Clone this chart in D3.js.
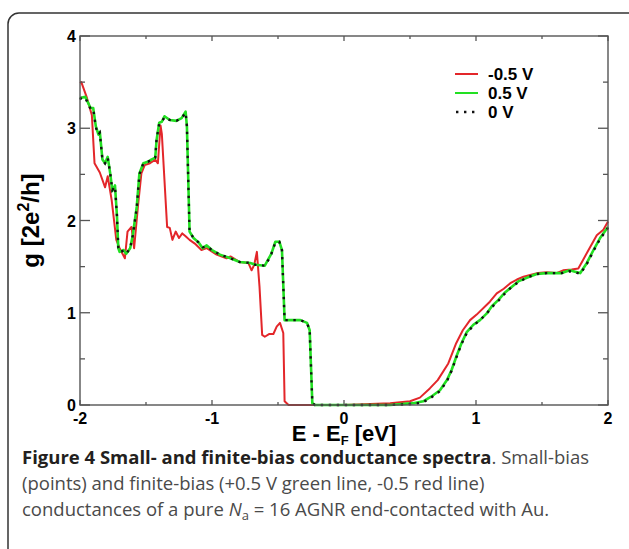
<!DOCTYPE html>
<html>
<head>
<meta charset="utf-8">
<script src="https://cdn.jsdelivr.net/npm/d3@7"></script>
<style>
  body { margin: 0; background: #fff; }
  svg { display: block; }
</style>
</head>
<body>
<svg id="chart"></svg>
<script>
// -0.5 V (red)
var redE = [-2.00,-1.99,-1.95,-1.91,-1.89,-1.85,-1.81,-1.79,-1.76,-1.725,-1.70,-1.66,-1.64,-1.61,-1.59,-1.56,-1.535,-1.51,-1.47,-1.43,-1.41,-1.39,-1.38,-1.34,-1.32,-1.30,-1.275,-1.25,-1.225,-1.20,-1.17,-1.13,-1.08,-1.04,-0.965,-0.89,-0.86,-0.79,-0.725,-0.70,-0.68,-0.66,-0.64,-0.62,-0.60,-0.565,-0.535,-0.51,-0.485,-0.46,-0.45,-0.42,-0.2,0,0.2,0.35,0.50,0.575,0.65,0.71,0.79,0.85,0.90,0.955,1.005,1.07,1.105,1.157,1.21,1.26,1.31,1.36,1.41,1.47,1.535,1.61,1.66,1.725,1.775,1.81,1.86,1.915,1.965,2.0];
var redG = [3.49,3.50,3.34,3.14,2.62,2.52,2.36,2.48,2.22,1.79,1.70,1.59,1.88,1.93,1.70,2.17,2.51,2.60,2.62,2.66,2.62,3.03,2.94,1.93,1.92,1.79,1.88,1.81,1.86,1.83,1.79,1.75,1.68,1.70,1.63,1.59,1.61,1.55,1.54,1.46,1.52,1.66,1.28,0.76,0.74,0.77,0.77,0.85,0.89,0.78,0.04,0.0,0.0,0.0,0.01,0.02,0.04,0.08,0.18,0.27,0.45,0.67,0.81,0.92,0.98,1.07,1.12,1.21,1.26,1.32,1.36,1.39,1.41,1.43,1.44,1.43,1.46,1.47,1.48,1.57,1.70,1.84,1.90,1.99];

// +0.5 V (green) and 0 V (dots) share one energy grid
var gridE = [-2.00,-1.99,-1.96,-1.92,-1.90,-1.88,-1.86,-1.85,-1.83,-1.81,-1.79,-1.77,-1.755,-1.735,-1.72,-1.71,-1.70,-1.67,-1.65,-1.62,-1.60,-1.57,-1.55,-1.52,-1.48,-1.46,-1.43,-1.42,-1.40,-1.38,-1.36,-1.32,-1.27,-1.23,-1.20,-1.19,-1.17,-1.14,-1.10,-1.07,-1.04,-1.00,-0.94,-0.86,-0.79,-0.71,-0.67,-0.60,-0.57,-0.55,-0.52,-0.49,-0.47,-0.45,-0.41,-0.33,-0.28,-0.26,-0.24,-0.22,0,0.35,0.525,0.60,0.66,0.727,0.78,0.815,0.85,0.89,0.93,0.98,1.03,1.08,1.12,1.17,1.22,1.27,1.32,1.385,1.46,1.535,1.65,1.71,1.75,1.79,1.84,1.89,1.94,2.0];
var greenG = [3.32,3.33,3.34,3.22,3.22,3.02,2.93,2.96,2.66,2.62,2.69,2.50,2.32,2.38,2.05,1.70,1.66,1.68,1.64,1.70,1.84,2.15,2.51,2.62,2.64,2.66,2.68,2.87,3.06,3.07,3.13,3.09,3.08,3.11,3.18,3.02,1.88,1.81,1.76,1.70,1.73,1.68,1.63,1.59,1.55,1.54,1.52,1.51,1.59,1.64,1.77,1.77,1.68,0.92,0.92,0.92,0.89,0.81,0.02,0.0,0.0,0.0,0.02,0.04,0.09,0.16,0.27,0.38,0.52,0.67,0.79,0.87,0.92,0.99,1.07,1.14,1.22,1.28,1.34,1.38,1.42,1.43,1.43,1.46,1.445,1.43,1.54,1.68,1.81,1.93];
var zeroG = [3.31,3.33,3.33,3.21,3.21,3.01,2.93,2.95,2.66,2.62,2.68,2.50,2.33,2.37,2.05,1.71,1.66,1.67,1.64,1.70,1.84,2.14,2.50,2.62,2.64,2.66,2.68,2.88,3.05,3.07,3.12,3.09,3.08,3.11,3.17,3.02,1.88,1.81,1.76,1.71,1.72,1.68,1.63,1.59,1.55,1.54,1.52,1.51,1.58,1.64,1.76,1.77,1.68,0.92,0.92,0.92,0.89,0.81,0.02,0.0,0.0,0.0,0.01,0.03,0.08,0.15,0.26,0.37,0.51,0.66,0.78,0.86,0.92,0.99,1.06,1.13,1.21,1.28,1.33,1.38,1.42,1.43,1.43,1.45,1.44,1.42,1.53,1.67,1.80,1.92];

var xTicks = [-2, -1, 0, 1, 2];
var yTicks = [0, 1, 2, 3, 4];
var legendNames = ["-0.5 V", "0.5 V", "0 V"];

var W = 629, H = 549;
var svg = d3.select("#chart").attr("width", W).attr("height", H);

var pLeft = 80, pRight = 608, pTop = 36, pBottom = 405;
var x = d3.scaleLinear().domain([-2, 2]).range([pLeft, pRight]);
var y = d3.scaleLinear().domain([0, 4]).range([pBottom, pTop]);

// rounded figure frame
svg.append("rect")
   .attr("x", 8).attr("y", 13)
   .attr("width", 640).attr("height", 600)
   .attr("rx", 11)
   .attr("fill", "none")
   .attr("stroke", "#333")
   .attr("stroke-width", 1.5);

var font = "'Liberation Sans', Arial, Helvetica, sans-serif";

// curves
var line = d3.line()
    .x(function(d) { return x(d[0]); })
    .y(function(d) { return y(d[1]); });

var redData = d3.zip(redE, redG),
    greenData = d3.zip(gridE, greenG),
    zeroData = d3.zip(gridE, zeroG);

var plot = svg.append("g");
plot.append("path").datum(redData)
    .attr("d", line).attr("fill", "none")
    .attr("stroke", "#e3262a").attr("stroke-width", 2)
    .attr("stroke-linejoin", "round");
plot.append("path").datum(greenData)
    .attr("d", line).attr("fill", "none")
    .attr("stroke", "#22e022").attr("stroke-width", 2.6)
    .attr("stroke-linejoin", "round");
plot.append("path").datum(zeroData)
    .attr("d", line).attr("fill", "none")
    .attr("stroke", "#111").attr("stroke-width", 2.4)
    .attr("stroke-dasharray", "2.4,5.6");

// axes box with inward ticks on all sides
var axisColor = "#555";
svg.append("rect")
   .attr("x", pLeft).attr("y", pTop)
   .attr("width", pRight - pLeft).attr("height", pBottom - pTop)
   .attr("fill", "none").attr("stroke", axisColor).attr("stroke-width", 1.4);

var ax = svg.append("g");
d3.range(-2, 2.01, 0.5).forEach(function(v) {
    var major = Math.abs(v - Math.round(v)) < 1e-6;
    var len = major ? 5 : 3;
    ax.append("line").attr("x1", x(v)).attr("x2", x(v))
      .attr("y1", pBottom).attr("y2", pBottom - len);
    ax.append("line").attr("x1", x(v)).attr("x2", x(v))
      .attr("y1", pTop).attr("y2", pTop + len);
});
d3.range(0, 4.01, 0.5).forEach(function(v) {
    var major = Math.abs(v - Math.round(v)) < 1e-6;
    var len = major ? 10 : 5;
    ax.append("line").attr("y1", y(v)).attr("y2", y(v))
      .attr("x1", pLeft).attr("x2", pLeft + len);
    ax.append("line").attr("y1", y(v)).attr("y2", y(v))
      .attr("x1", pRight).attr("x2", pRight - len);
});
ax.selectAll("line").attr("stroke", axisColor).attr("stroke-width", 1.3);

// tick labels
svg.selectAll(".xt").data(xTicks).enter().append("text")
   .attr("x", function(d) { return x(d); })
   .attr("y", pBottom + 19)
   .attr("text-anchor", "middle")
   .attr("font-family", font).attr("font-weight", "bold").attr("font-size", 16)
   .text(function(d) { return d; });

svg.selectAll(".yt").data(yTicks).enter().append("text")
   .attr("x", pLeft - 4)
   .attr("y", function(d) { return y(d) + 6; })
   .attr("text-anchor", "end")
   .attr("font-family", font).attr("font-weight", "bold").attr("font-size", 16)
   .text(function(d) { return d; });

// axis titles
var xt = svg.append("text")
   .attr("x", (pLeft + pRight) / 2).attr("y", 441)
   .attr("text-anchor", "middle")
   .attr("font-family", font).attr("font-weight", "bold").attr("font-size", 22);
xt.append("tspan").text("E - E");
xt.append("tspan").attr("dy", 4).attr("font-size", 13).text("F");
xt.append("tspan").attr("dy", -4).text(" [eV]");

var yt = svg.append("text")
   .attr("transform", "translate(39," + ((pTop + pBottom) / 2) + ") rotate(-90)")
   .attr("text-anchor", "middle")
   .attr("font-family", font).attr("font-weight", "bold").attr("font-size", 24);
yt.append("tspan").text("g [2e");
yt.append("tspan").attr("dy", -10).attr("font-size", 16).text("2");
yt.append("tspan").attr("dy", 10).text("/h]");

// legend
var legColors = ["#e3262a", "#22e022", "#111"];
var leg = svg.append("g").attr("transform", "translate(455,74)");
legendNames.forEach(function(name, i) {
    var row = leg.append("g").attr("transform", "translate(0," + (i * 19) + ")");
    var l = row.append("line").attr("x1", 0).attr("x2", 23).attr("y1", 0).attr("y2", 0)
       .attr("stroke", legColors[i]).attr("stroke-width", i == 2 ? 2.4 : 2);
    if (i == 2) l.attr("stroke-dasharray", "2.4,5.6").attr("x1", 1);
    row.append("text").attr("x", 33).attr("y", 6)
       .attr("font-family", font).attr("font-weight", "bold").attr("font-size", 17)
       .text(name);
});

// caption
var capFont = "'Open Sans', 'Noto Sans', sans-serif";
var cap = svg.append("g").attr("font-family", capFont).attr("font-size", 18.5).attr("fill", "#4a4a4a");
var c1 = cap.append("text").attr("x", 22).attr("y", 464);
c1.append("tspan").attr("font-weight", "bold").attr("fill", "#231f20")
  .text("Figure 4 Small- and finite-bias conductance spectra");
c1.append("tspan").text(". Small-bias");
cap.append("text").attr("x", 22).attr("y", 490)
   .text("(points) and finite-bias (+0.5 V green line, -0.5 red line)");
var c3 = cap.append("text").attr("x", 22).attr("y", 516);
c3.append("tspan").text("conductances of a pure ");
c3.append("tspan").attr("font-style", "italic").text("N");
c3.append("tspan").attr("dy", 4).attr("font-size", 13).text("a");
c3.append("tspan").attr("dy", -4).text(" = 16 AGNR end-contacted with Au.");
</script>
</body>
</html>
